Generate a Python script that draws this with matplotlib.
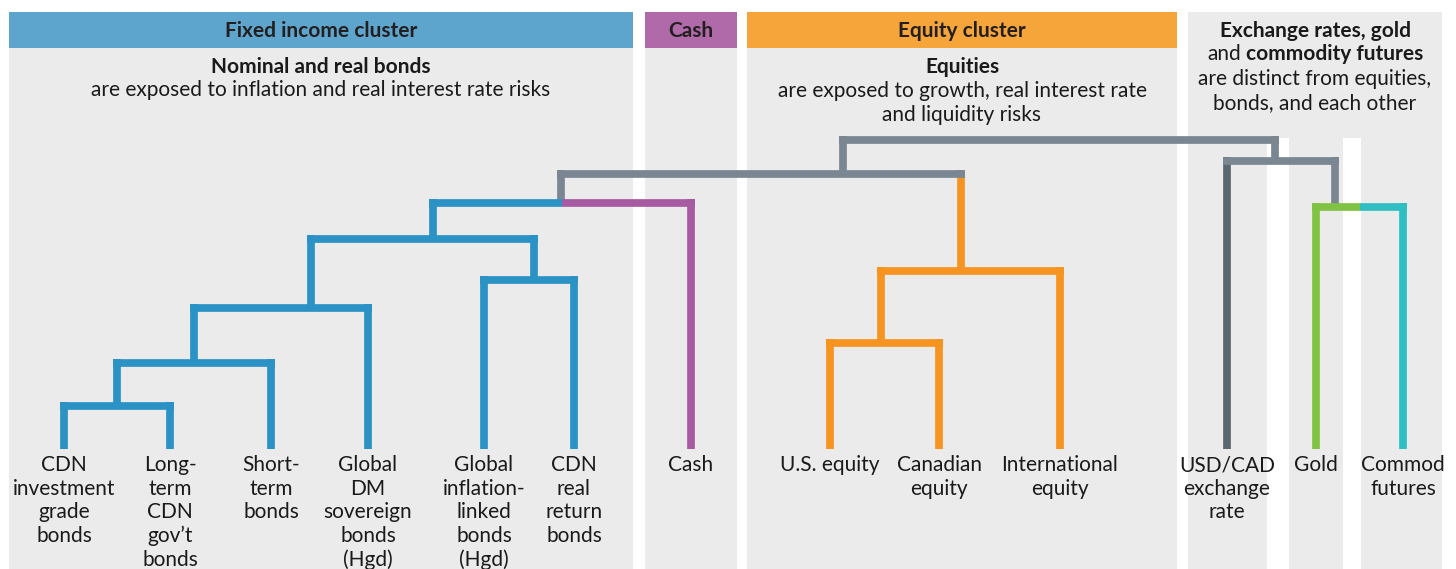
import matplotlib.pyplot as plt
from matplotlib.patches import Rectangle

plt.rcParams['font.family'] = ['Lato', 'DejaVu Sans']

BLUE = "#2a92c4"
PURPLE = "#a65aa2"
ORANGE = "#f7941f"
GREY = "#7a8691"
DARK = "#5a6670"
GREEN = "#80c342"
TEAL = "#2dbfc1"
TXT = "#1a1a1a"
FS = 15

# leaves, left to right
leaf_labels = ["CDN\ninvestment\ngrade\nbonds", "Long-\nterm\nCDN\ngov’t\nbonds",
               "Short-\nterm\nbonds", "Global\nDM\nsovereign\nbonds\n(Hgd)",
               "Global\ninflation-\nlinked\nbonds\n(Hgd)", "CDN\nreal\nreturn\nbonds",
               "Cash", "U.S. equity", "Canadian\nequity", "International\nequity",
               "USD/CAD\nexchange\nrate", "Gold", "Commod\nfutures"]
leaf_pos = [64, 170, 271, 368, 484, 574, 691, 830, 939, 1060, 1227, 1316, 1403]
leaf_colors = [BLUE] * 6 + [PURPLE] + [ORANGE] * 3 + [DARK, GREEN, TEAL]

# merges -> nodes 13..24 (linkage style)
merge_left = [0, 13, 14, 4, 15, 17, 7, 19, 18, 11, 10, 21]
merge_right = [1, 2, 3, 5, 16, 6, 8, 9, 20, 12, 22, 23]
merge_height = [43, 86, 141, 169, 210, 246, 106, 178, 275, 242, 288, 309]
merge_pos = [117, 194, 311, 534, 433, 561, 881, 961, 843, 1335, 1275, 1060]
merge_node_color = [BLUE] * 5 + [GREY, ORANGE, ORANGE] + [GREY] * 4
merge_col_left = [BLUE] * 6 + [ORANGE, ORANGE, GREY, GREEN, GREY, GREY]
merge_col_right = [BLUE] * 5 + [PURPLE, ORANGE, ORANGE, GREY, TEAL, GREY, GREY]

# panels
panel_x0 = [9, 645, 747, 1188]
panel_x1 = [633, 737, 1177, 1442]
panel_head = ["Fixed income cluster", "Cash", "Equity cluster", None]
panel_head_color = ["#5ea5cd", "#b06aa9", "#f6a53a", None]
gap_x0 = [1267, 1343]
gap_x1 = [1289, 1361]

fig = plt.figure(figsize=(14.56, 5.69), dpi=100)
ax = fig.add_axes([0, 0, 1, 1])
ax.set_xlim(0, 1456)
ax.set_ylim(569, 0)
ax.axis('off')

base = 449
lw_px = 7.7
hw = lw_px / 2
lw = lw_px * 72 / 100

for x0, x1, head, col in zip(panel_x0, panel_x1, panel_head, panel_head_color):
    ax.add_patch(Rectangle((x0, 12), x1 - x0, 569 - 12, color="#ebebeb", lw=0, zorder=0))
    if head:
        ax.add_patch(Rectangle((x0, 12), x1 - x0, 36, color=col, lw=0, zorder=1))
        ax.text((x0 + x1) / 2, 31, head, ha='center', va='center', fontsize=FS,
                weight='bold', color="#231f20", zorder=5)
for g0, g1 in zip(gap_x0, gap_x1):
    ax.add_patch(Rectangle((g0, 138), g1 - g0, 569 - 138, color="white", lw=0, zorder=1))

# node positions / heights
pos = list(leaf_pos)
hgt = [0] * len(leaf_pos)
ncol = list(leaf_colors)
for i in range(len(merge_left)):
    pos.append(merge_pos[i])
    hgt.append(merge_height[i])
    ncol.append(merge_node_color[i])

for i in range(len(merge_left)):
    a, b, h = merge_left[i], merge_right[i], merge_height[i]
    y = base - h
    split = (pos[a] + pos[b]) / 2
    # verticals
    for c in (a, b):
        ax.plot([pos[c], pos[c]], [base - hgt[c], y - hw], color=ncol[c], lw=lw,
                solid_capstyle='butt', zorder=2)
    # horizontals
    ax.plot([pos[a] - hw, split], [y, y], color=merge_col_left[i], lw=lw,
            solid_capstyle='butt', zorder=3)
    ax.plot([split, pos[b] + hw], [y, y], color=merge_col_right[i], lw=lw,
            solid_capstyle='butt', zorder=3)

# last column clips its label, like the original
clip = Rectangle((gap_x1[-1], 0), panel_x1[-1] - gap_x1[-1], 569, transform=ax.transData,
                 visible=False)
ax.add_patch(clip)
for x, lab in zip(leaf_pos, leaf_labels):
    t = ax.text(x, 455, lab, ha='center', va='top', fontsize=FS, color=TXT,
                linespacing=1.22, zorder=5)
    if x > gap_x1[-1]:
        t.set_clip_path(clip)

# panel notes
ax.text(321, 67, "Nominal and real bonds", ha='center', va='center', fontsize=FS,
        weight='bold', color=TXT)
ax.text(321, 90, "are exposed to inflation and real interest rate risks", ha='center',
        va='center', fontsize=FS, color=TXT)
ax.text(962, 67, "Equities", ha='center', va='center', fontsize=FS, weight='bold', color=TXT)
ax.text(962, 91, "are exposed to growth, real interest rate", ha='center', va='center',
        fontsize=FS, color=TXT)
ax.text(962, 115, "and liquidity risks", ha='center', va='center', fontsize=FS, color=TXT)

ax.text(1315, 31, "Exchange rates, gold", ha='center', va='center', fontsize=FS,
        weight='bold', color=TXT)
t1 = ax.text(0, 54, "and", ha='left', va='center', fontsize=FS, color=TXT)
t2 = ax.text(0, 54, "commodity futures", ha='left', va='center', fontsize=FS,
             weight='bold', color=TXT)
fig.canvas.draw()
r = fig.canvas.get_renderer()
w1 = t1.get_window_extent(r).width
w2 = t2.get_window_extent(r).width
gap = 5
start = 1315 - (w1 + gap + w2) / 2
t1.set_x(start)
t2.set_x(start + w1 + gap)
ax.text(1315, 79, "are distinct from equities,", ha='center', va='center', fontsize=FS,
        color=TXT)
ax.text(1315, 103, "bonds, and each other", ha='center', va='center', fontsize=FS,
        color=TXT)

fig.savefig("out.png", dpi=100, facecolor="white")
